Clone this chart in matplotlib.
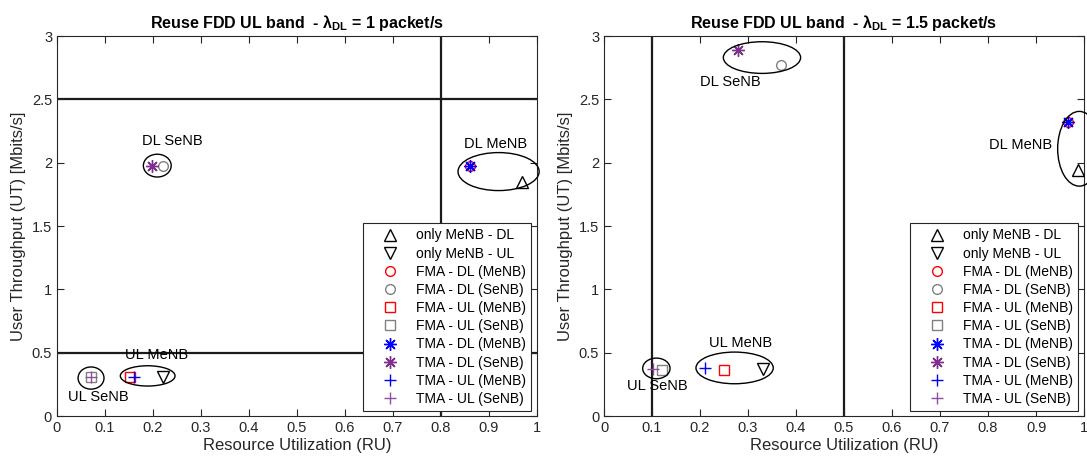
import numpy as np
import matplotlib
matplotlib.use('Agg')
from matplotlib import pyplot as plt
from matplotlib.patches import Ellipse

plt.rcParams['font.family'] = ['Liberation Sans', 'DejaVu Sans']
plt.rcParams['mathtext.fontset'] = 'custom'
plt.rcParams['mathtext.rm'] = 'Liberation Sans'
plt.rcParams['mathtext.bf'] = 'Liberation Sans:bold'

# legend entries (same order in both panels)
names = ['only MeNB - DL', 'only MeNB - UL',
         'FMA - DL (MeNB)', 'FMA - DL (SeNB)', 'FMA - UL (MeNB)', 'FMA - UL (SeNB)',
         'TMA - DL (MeNB)', 'TMA - DL (SeNB)', 'TMA - UL (MeNB)', 'TMA - UL (SeNB)']
markers = ['^', 'v', 'o', 'o', 's', 's', 'ast', 'ast', '+', '+']
colors = ['k', 'k', '#FF0000', '#808080', '#FF0000', '#808080',
          '#0000FF', '#7E2F8E', '#0000FF', '#8E4F9E']

# lambda_DL = 1 packet/s
ru_1 = [0.968, 0.220, 0.860, 0.220, 0.152, 0.071, 0.860, 0.199, 0.161, 0.071]
ut_1 = [1.85, 0.305, 1.974, 1.974, 0.31, 0.305, 1.974, 1.974, 0.31, 0.305]

# lambda_DL = 1.5 packet/s
ru_15 = [0.987, 0.331, 0.967, 0.369, 0.250, 0.1215, 0.967, 0.280, 0.210, 0.101]
ut_15 = [1.94, 0.374, 2.32, 2.768, 0.363, 0.360, 2.32, 2.89, 0.382, 0.374]

# group ellipses: (name, centre x, centre y, width, height, text x, text y)
groups_1 = [('DL SeNB', 0.209, 1.977, 0.058, 0.18, 0.24, 2.17),
            ('DL MeNB', 0.920, 1.930, 0.169, 0.30, 0.913, 2.15),
            ('UL MeNB', 0.189, 0.317, 0.114, 0.16, 0.207, 0.48),
            ('UL SeNB', 0.071, 0.300, 0.054, 0.175, 0.086, 0.15)]
groups_15 = [('DL SeNB', 0.329, 2.830, 0.161, 0.25, 0.264, 2.64),
             ('DL MeNB', 0.990, 2.110, 0.090, 0.59, 0.868, 2.14),
             ('UL MeNB', 0.272, 0.380, 0.161, 0.25, 0.285, 0.58),
             ('UL SeNB', 0.109, 0.376, 0.057, 0.163, 0.110, 0.24)]

fig = plt.figure(figsize=(10.87, 4.68), dpi=100)
ax1 = fig.add_axes([0.0524, 0.111, 0.4416, 0.812])
ax2 = fig.add_axes([0.5557, 0.111, 0.4416, 0.812])


def draw(ax, ru, ut, groups, title, hlines, vlines):
    for y in hlines:
        ax.axhline(y, color='#1a1a1a', lw=1.6, zorder=1)
    for x in vlines:
        ax.axvline(x, color='#1a1a1a', lw=1.6, zorder=1)
    for i in range(len(names)):
        m = markers[i]
        if m == 'ast':
            # matlab style asterisk (+ and x together)
            ax.plot(ru[i], ut[i], marker=(8, 2, 0), ls='none', color=colors[i], ms=9, mew=1.0,
                    label=names[i], zorder=3)
        elif m == '+':
            ax.plot(ru[i], ut[i], m, color=colors[i], ms=9, mew=1.0, label=names[i], zorder=3)
        else:
            ms = 7 if m == 'o' else 8 if m in ['^', 'v'] else 6.5
            ax.plot(ru[i], ut[i], m, mfc='none', mec=colors[i], ms=ms, mew=1.0,
                    label=names[i], zorder=3)
    for g in groups:
        ax.add_patch(Ellipse((g[1], g[2]), g[3], g[4], fill=False, ec='k', lw=1.0,
                             clip_on=False, zorder=4))
        ax.text(g[5], g[6], g[0], ha='center', va='center', fontsize=10.5)
    ax.set_xlim(0, 1)
    ax.set_ylim(0, 3)
    ax.set_xticks(np.arange(0, 1.01, 0.1))
    ax.set_xticklabels(['0', '0.1', '0.2', '0.3', '0.4', '0.5', '0.6', '0.7', '0.8', '0.9', '1'])
    ax.set_yticks(np.arange(0, 3.01, 0.5))
    ax.set_yticklabels(['0', '0.5', '1', '1.5', '2', '2.5', '3'])
    ax.tick_params(direction='in', top=True, right=True, labelsize=10.5, length=5,
                   color='#262626', labelcolor='#262626')
    for s in ax.spines.values():
        s.set_color('#262626')
    ax.set_xlabel('Resource Utilization (RU)', fontsize=12, color='#262626', labelpad=2)
    ax.set_ylabel('User Throughput (UT) [Mbits/s]', fontsize=12, color='#262626', labelpad=4)
    ax.set_title(title, fontsize=11.5, fontweight='bold', pad=6)
    leg = ax.legend(loc='lower left', bbox_to_anchor=(0.638, 0.012, 0.35, 0.50), mode='expand',
                    fontsize=10, frameon=True, fancybox=False, framealpha=1,
                    edgecolor='#262626', handlelength=3.1, handletextpad=0.3,
                    labelspacing=0.3, borderaxespad=0, borderpad=0.4, numpoints=1)
    leg.get_frame().set_linewidth(0.8)
    leg.set_zorder(5)


draw(ax1, ru_1, ut_1, groups_1,
     r'Reuse FDD UL band  - $\mathbf{\lambda}_{\mathbf{DL}}$ = 1 packet/s', [2.5, 0.5], [0.8])
draw(ax2, ru_15, ut_15, groups_15,
     r'Reuse FDD UL band  - $\mathbf{\lambda}_{\mathbf{DL}}$ = 1.5 packet/s', [], [0.1, 0.5])

plt.savefig('out.png', dpi=100)
